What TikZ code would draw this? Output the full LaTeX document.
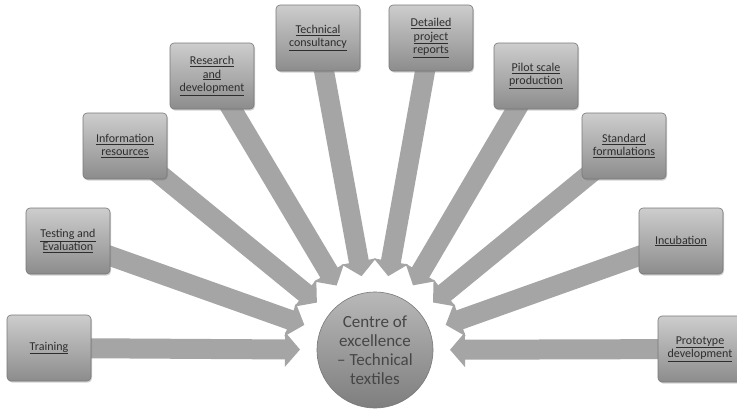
\documentclass[tikz,border=0pt]{standalone}
\usepackage{fontspec}
\setmainfont{Carlito}
\usetikzlibrary{arrows.meta,backgrounds,calc,shadows}
\definecolor{arr}{RGB}{165,165,165}
\definecolor{boxtop}{RGB}{205,205,205}
\definecolor{boxbot}{RGB}{140,140,140}
\definecolor{boxedge}{RGB}{120,120,120}
\definecolor{txt}{RGB}{45,45,45}
\definecolor{ctxt}{RGB}{70,70,70}
\begin{document}
\begin{tikzpicture}[x=1pt,y=-1pt,
  box/.style={rectangle, rounded corners=4pt, minimum width=84pt, minimum height=66pt,
    top color=boxtop, bottom color=boxbot, draw=boxedge, line width=0.6pt,
    text=txt, font=\fontsize{12}{13.5}\selectfont, align=center, inner sep=1pt,
    drop shadow={shadow xshift=1pt, shadow yshift=-1.5pt, opacity=0.35}},
  hub/.style={circle, minimum size=116pt, top color=boxtop!90!black, bottom color=boxbot!90!black,
    draw=boxedge, line width=0.6pt, text=ctxt, font=\fontsize{17}{19}\selectfont, align=center, inner sep=0pt},
  bigarrow/.style={draw=arr, line width=20pt, -{Triangle[length=15pt 0 0, width=34pt 0 0]}},
  ]
\begin{scope}[on background layer]
\fill[white] (0,0) rectangle (737,410);
\end{scope}
\useasboundingbox (0,0) rectangle (737,410);

\node[hub] (c) at (375,350) {Centre of\\excellence\\– Technical\\textiles};

\node[box] (b1) at (49,348) {\underline{Training}};
\node[box] (b2) at (68,241) {\underline{Testing and}\\\underline{Evaluation}};
\node[box] (b3) at (125,146) {\underline{Information}\\\underline{resources}};
\node[box] (b4) at (212,76) {\underline{Research}\\\underline{and}\\\underline{development}};
\node[box] (b5) at (318,38) {\underline{Technical}\\\underline{consultancy}};
\node[box] (b6) at (431,38) {\underline{Detailed}\\\underline{project}\\\underline{reports}};
\node[box] (b7) at (536,76) {\underline{Pilot scale}\\\underline{production}};
\node[box] (b8) at (624,146) {\underline{Standard}\\\underline{formulations}};
\node[box] (b9) at (681,241) {\underline{Incubation}};
\node[box] (b10) at (700,349) {\underline{Prototype}\\\underline{development}};

\foreach \i in {1,...,10} {
  \coordinate (t\i) at ($(c.center)!75pt!(b\i.center)$);
}
\begin{scope}[on background layer]
  \foreach \i in {1,...,10} {
    \draw[bigarrow] (b\i.center) -- (t\i);
  }
\end{scope}
\end{tikzpicture}
\end{document}
